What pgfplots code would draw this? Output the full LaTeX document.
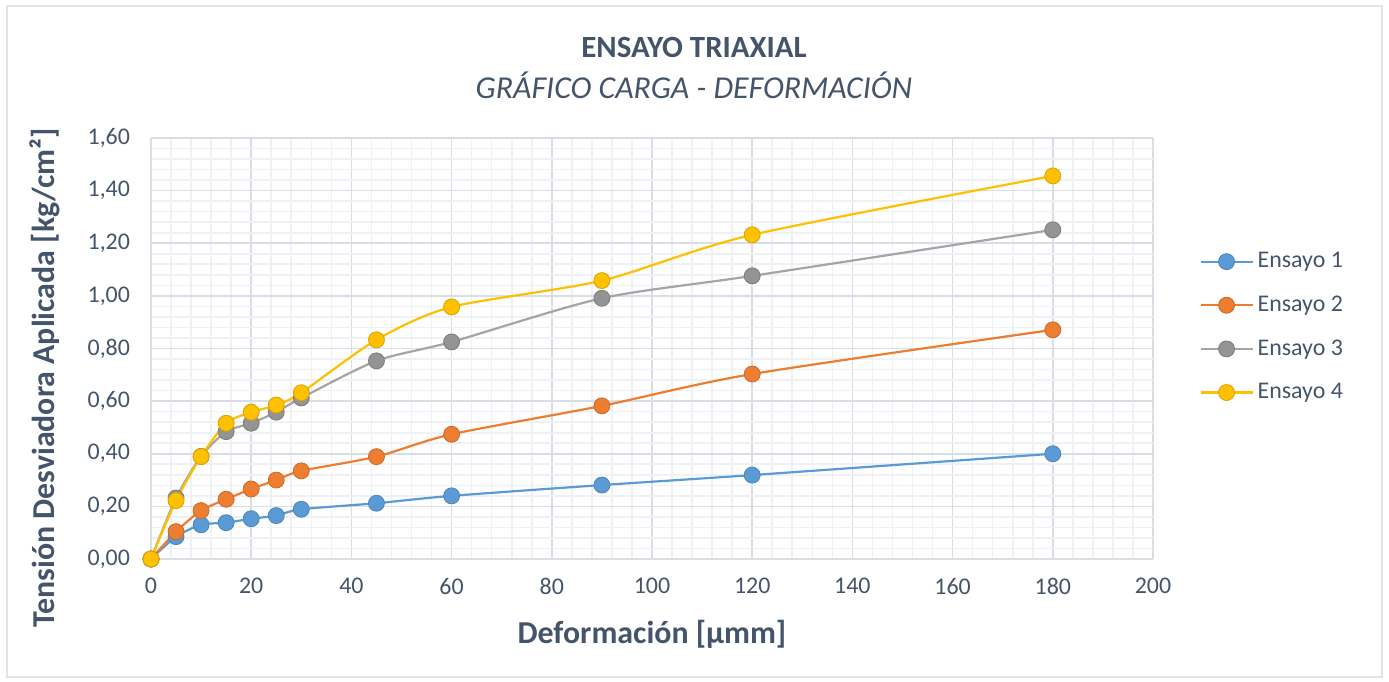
\documentclass[border=0pt]{standalone}
\usepackage{pgfplots}
\pgfplotsset{compat=1.18}
\usepackage{fontspec}
\setmainfont{Carlito}
\definecolor{txt}{HTML}{44546A}
\definecolor{c1}{HTML}{5B9BD5}
\definecolor{c2}{HTML}{ED7D31}
\definecolor{c3}{HTML}{A5A5A5}
\definecolor{c4}{HTML}{FFC000}
\definecolor{gmaj}{HTML}{D9DEE6}
\definecolor{gmin}{HTML}{EFF1F4}
\begin{document}
\begin{tikzpicture}[x=1bp,y=1bp]
\path[use as bounding box] (-75.5bp,-61.5bp) rectangle (619bp,279.5bp);
\draw[color=gmaj!80, line width=1.2bp] (-72bp,-59bp) rectangle (615.5bp,276.5bp);
\begin{axis}[
  at={(0,0)}, anchor=south west,
  scale only axis, width=501bp, height=210.5bp,
  xmin=0, xmax=200, ymin=0, ymax=1.6,
  xtick={0,20,...,200}, ytick={0,0.2,...,1.6},
  minor tick num=4,
  grid=both,
  major grid style={gmaj, line width=0.8bp},
  minor grid style={gmin, line width=0.8bp},
  axis line style={gmaj!90!black!60, line width=1.2bp},
  separate axis lines,
  axis x line*=bottom, axis y line*=left,
  x axis line style={-}, y axis line style={-},
  tick style={draw=none},
  ticklabel style={font=\fontsize{12}{13}\selectfont, text=txt},
  /pgf/number format/assume math mode=true,
  y tick label style={xshift=-7bp, /pgf/number format/.cd, fixed, fixed zerofill, precision=2, use comma},
  x tick label style={yshift=-6bp, /pgf/number format/.cd, fixed, 1000 sep={}},
  xlabel={\bfseries Deformación [μmm]},
  ylabel={\bfseries Tensión Desviadora Aplicada [kg/cm²]},
  label style={font=\fontsize{16}{17}\selectfont, text=txt},
  xlabel style={at={(axis description cs:0.5,-0.18)}, anchor=center},
  ylabel style={at={(axis description cs:-0.106,0.43)}, anchor=center},
  legend style={at={(1.04,0.748)}, anchor=north west, draw=none, fill=none,
    font=\fontsize{12}{13}\selectfont, text=txt, row sep=8.6bp,
    /tikz/every even column/.append style={column sep=2bp}},
  legend image code/.code={
    \draw[#1, mark repeat=2, mark phase=2] plot coordinates {(0bp,0bp) (13bp,0bp) (26bp,0bp)};},
  every axis plot/.append style={line width=1.1bp, smooth, tension=0.45},
  clip=false,
]
\addplot[c1, mark=*, mark size=4bp, mark options={fill=c1, draw=c1!85!black, line width=0.4bp}] coordinates {
(0,0) (5,0.085) (10,0.130) (15,0.138) (20,0.153) (25,0.165) (30,0.189)
(45,0.212) (60,0.240) (90,0.281) (120,0.319) (180,0.400)};
\addlegendentry{Ensayo 1}
\addplot[c2, mark=*, mark size=4bp, mark options={fill=c2, draw=c2!85!black, line width=0.4bp}] coordinates {
(0,0) (5,0.104) (10,0.184) (15,0.227) (20,0.266) (25,0.300) (30,0.335)
(45,0.389) (60,0.474) (90,0.582) (120,0.703) (180,0.871)};
\addlegendentry{Ensayo 2}
\addplot[c3, mark=*, mark size=4bp, mark options={fill=c3!90!black, draw=c3!75!black, line width=0.4bp}] coordinates {
(0,0) (5,0.232) (10,0.390) (15,0.484) (20,0.516) (25,0.558) (30,0.612)
(45,0.753) (60,0.825) (90,0.991) (120,1.076) (180,1.251)};
\addlegendentry{Ensayo 3}
\addplot[c4, mark=*, mark size=4bp, mark options={fill=c4, draw=c4!85!black, line width=0.4bp}] coordinates {
(0,0) (5,0.222) (10,0.389) (15,0.516) (20,0.558) (25,0.585) (30,0.632)
(45,0.833) (60,0.958) (90,1.058) (120,1.232) (180,1.456)};
\addlegendentry{Ensayo 4}
\end{axis}
\node[text=txt, font=\fontsize{15.5}{16}\selectfont\bfseries] at (271.5bp,256bp) {ENSAYO TRIAXIAL};
\node[text=txt, font=\fontsize{16}{17}\selectfont\itshape] at (271.5bp,237bp) {GRÁFICO CARGA - DEFORMACIÓN};
\end{tikzpicture}
\end{document}
